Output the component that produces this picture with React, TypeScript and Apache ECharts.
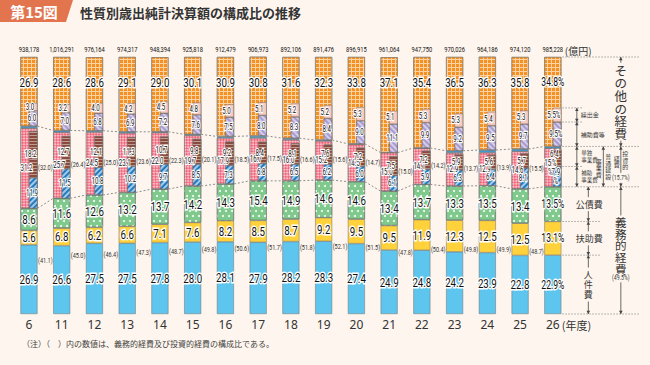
import React, { useEffect, useRef } from 'react';
import * as echarts from 'echarts';

// ---- data ----
const years = ['6', '11', '12', '13', '14', '15', '16', '17', '18', '19', '20', '21', '22', '23', '24', '25', '26'];
const totals = [938178, 1016291, 976164, 974317, 948394, 925818, 912479, 906973, 892106, 891476, 896915, 961064, 947750, 970026, 964186, 974120, 985228];
const personnel = [26.9, 26.6, 27.5, 27.5, 27.8, 28.0, 28.1, 27.9, 28.2, 28.3, 27.4, 24.9, 24.8, 24.2, 23.9, 22.8, 22.9];
const assistance = [5.6, 6.8, 6.2, 6.6, 7.1, 7.6, 8.2, 8.5, 8.7, 9.2, 9.5, 9.5, 11.9, 12.3, 12.5, 12.5, 13.1];
const debt = [8.6, 11.6, 12.6, 13.2, 13.7, 14.2, 14.3, 15.4, 14.9, 14.6, 14.6, 13.4, 13.7, 13.3, 13.5, 13.4, 13.5];
const obligatory = [41.1, 45.0, 46.4, 47.3, 48.7, 49.8, 50.6, 51.7, 51.8, 52.1, 51.5, 47.8, 50.4, 49.8, 49.9, 48.7, 49.5];
const investment = [32.0, 26.4, 25.0, 23.6, 22.3, 20.1, 18.5, 17.5, 16.6, 15.6, 14.7, 15.0, 14.2, 13.7, 13.9, 15.5, 15.7];
const construction = [31.2, 25.7, 24.5, 23.1, 22.0, 19.7, 17.9, 16.7, 16.0, 15.2, 14.5, 15.0, 14.1, 12.9, 12.9, 14.6, 15.0];
const subsidized = [11.9, 11.5, 10.8, 10.2, 9.7, 8.5, 7.3, 6.8, 6.5, 6.2, 6.0, 6.1, 5.9, 6.3, 6.4, 8.1, 7.9];
const independent = [18.2, 12.7, 12.1, 11.3, 10.7, 9.8, 9.2, 8.4, 8.1, 7.6, 7.2, 7.5, 7.2, 5.9, 5.6, 5.7, 6.4];
const other = [26.9, 28.6, 28.6, 29.1, 29.0, 30.1, 30.9, 30.8, 31.6, 32.3, 33.8, 37.1, 35.4, 36.5, 36.3, 35.8, 34.8];
const grants = [6.0, 7.0, 6.8, 6.9, 7.2, 7.6, 7.5, 8.0, 8.3, 8.4, 9.0, 11.1, 9.9, 9.2, 9.5, 9.7, 9.5];
const transfers = [3.0, 3.2, 4.0, 4.2, 4.5, 4.8, 5.0, 5.1, 5.2, 5.2, 5.3, 5.1, 5.3, 5.3, 5.4, 5.3, 5.5];

const NUM = "Roboto, 'Noto Sans', sans-serif";
const JP = "'Noto Sans CJK JP', 'Noto Sans', sans-serif";
const BG = '#FEF6EE';
const LAST = years.length - 1;
const BAR_W = 17;
const HALF = BAR_W / 2;

const r1 = (v: number) => Math.round(v * 10) / 10;
const baseLvl = personnel.map((v, i) => r1(v + assistance[i] + debt[i]));
const investOther = investment.map((v, i) => Math.max(0, r1(v - construction[i])));
const invGap = investment.map((v, i) => Math.max(0, r1(v - subsidized[i] - independent[i])));

const fmt = (v: number, i: number, stacked = false) => {
  const s = Number(v).toFixed(1);
  if (i !== LAST) return s;
  return stacked ? s + '\n%' : s + '%';
};

const border = { borderColor: '#6e6e6e', borderWidth: 0.5 };

const mainBar = (name: string, data: number[], color: string, decal?: any) => ({
  name, type: 'bar', xAxisIndex: 0, yAxisIndex: 0, stack: 'main', barWidth: BAR_W, data,
  itemStyle: decal ? { color, ...border, decal } : { color, ...border },
  label: { show: false }, silent: true,
});
const subBar = (name: string, data: number[], color: string | null, decal?: any) => ({
  name, type: 'bar', xAxisIndex: 1, yAxisIndex: 0, stack: 'R', barWidth: HALF, barGap: '0%', data,
  itemStyle: color ? (decal ? { color, ...border, decal } : { color, ...border }) : { color: 'rgba(0,0,0,0)' },
  label: { show: false }, silent: true,
});

type TS = { size: number; scale: number; stroke?: number; lh?: number; fill?: string };
const BIG: TS = { size: 13.5, scale: 0.72, stroke: 3 };
const BIG_LAST: TS = { size: 13, scale: 0.66, stroke: 3 };
const SMALL: TS = { size: 9, scale: 0.68, stroke: 2.4, lh: 9 };
const TOT: TS = { size: 8, scale: 0.72 };
const PAREN: TS = { size: 7.5, scale: 0.74, fill: '#333' };

// a number label: optional white halo drawn first, then the dark text
const T = (x: number, y: number, text: string, s: TS) => {
  const mk = (halo: boolean) => ({
    type: 'text', x, y, scaleX: s.scale, scaleY: 1,
    style: {
      text, fontSize: s.size, fontFamily: NUM,
      fill: halo ? '#fff' : (s.fill || '#111'),
      align: 'center', verticalAlign: 'middle',
      lineHeight: s.lh,
      stroke: halo ? '#fff' : undefined, lineWidth: halo ? s.stroke : 0,
    },
  });
  return s.stroke ? [mk(true), mk(false)] : [mk(false)];
};

export default function App() {
  const ref = useRef<HTMLDivElement>(null);
  useEffect(() => {
    if (!ref.current) return;
    const chart = echarts.init(ref.current, undefined, { renderer: 'svg' });
    const option: any = {
      animation: false,
      backgroundColor: BG,
      grid: { left: 12.6, right: 80.8, top: 57, bottom: 51, containLabel: false },
      xAxis: [
        {
          type: 'category', data: years, position: 'bottom',
          axisLine: { show: false }, axisTick: { show: false },
          axisLabel: { interval: 0, fontSize: 12, color: '#333', fontFamily: "'Noto Sans', sans-serif", margin: 4 },
        },
        { type: 'category', data: years, position: 'top', show: false },
      ],
      yAxis: [{ type: 'value', min: 0, max: 100, show: false }],
      series: [
        mainBar('人件費', personnel, '#5EC5EE'),
        mainBar('扶助費', assistance, '#FFD13B'),
        mainBar('公債費', debt, '#7FC98D', {
          symbol: 'circle', symbolSize: 1, color: 'rgba(255,255,255,0.95)',
          dashArrayX: [[2, 4], [0, 3, 2, 1]], dashArrayY: [2, 3],
        }),
        mainBar('普通建設事業費', construction, '#F1667A', {
          symbol: 'rect', symbolSize: 1, color: 'rgba(255,255,255,0.55)',
          dashArrayX: [[2, 2], [0, 2, 2, 0]], dashArrayY: [2, 0], rotation: Math.PI / 4,
        }),
        mainBar('その他投資的経費', investOther, '#3E9ED6'),
        mainBar('その他の経費', other, '#FCD3A0', {
          symbol: 'rect', symbolSize: 1, color: '#F39124', dashArrayX: [3, 1], dashArrayY: [3, 1],
        }),
        // right half sub bars
        {
          name: 'dummy', type: 'bar', xAxisIndex: 1, yAxisIndex: 0, stack: 'L', barWidth: HALF, barGap: '0%',
          data: years.map(() => 0), itemStyle: { color: 'rgba(0,0,0,0)' }, silent: true,
        },
        subBar('base', baseLvl, null),
        subBar('補助事業費', subsidized, '#1F7BC2', {
          symbol: 'rect', symbolSize: 1, color: 'rgba(255,255,255,0.6)', dashArrayX: [1, 0], dashArrayY: [1.2, 2], rotation: -Math.PI / 4,
        }),
        subBar('単独事業費', independent, '#8B4A3B', {
          symbol: 'rect', symbolSize: 1, color: 'rgba(255,255,255,0.45)', dashArrayX: [1, 0], dashArrayY: [1, 2],
        }),
        subBar('gap', invGap, null),
        subBar('補助費等', grants, '#A99BD1', {
          symbol: 'rect', symbolSize: 1, color: 'rgba(255,255,255,0.5)', dashArrayX: [1, 0], dashArrayY: [1.5, 2], rotation: Math.PI / 4,
        }),
        subBar('繰出金', transfers, '#F8C9C0'),
        // dotted connectors
        {
          type: 'custom', xAxisIndex: 0, yAxisIndex: 0, silent: true, z: 5,
          data: years.map((_, i) => [i, 0]),
          renderItem: (params: any, api: any) => {
            const i = api.value(0);
            if (i >= LAST) return { type: 'group', children: [] };
            const lo = (k: number) => personnel[k] + assistance[k] + debt[k];
            const hi = (k: number) => lo(k) + investment[k];
            const mk = (f: (k: number) => number) => {
              const a = api.coord([i, f(i)]);
              const b = api.coord([i + 1, f(i + 1)]);
              return {
                type: 'line',
                shape: { x1: a[0] + HALF, y1: a[1], x2: b[0] - HALF, y2: b[1] },
                style: { stroke: '#8c8c8c', lineWidth: 1, lineDash: [2, 2] },
              };
            };
            return { type: 'group', children: [mk(lo), mk(hi)] };
          },
        },
        // value labels, totals, parenthetical shares
        {
          type: 'custom', xAxisIndex: 0, yAxisIndex: 0, silent: true, z: 10,
          data: years.map((_, i) => [i, 0]),
          renderItem: (params: any, api: any) => {
            const i = api.value(0);
            const c = (v: number) => api.coord([i, v]);
            const xc = c(0)[0];
            const half = api.size([1, 0])[0] / 2;
            const p = personnel[i], a = assistance[i], d = debt[i];
            const b = p + a + d;
            const big = i === LAST ? BIG_LAST : BIG;
            const kids: any[] = [];
            kids.push(...T(xc, c(p / 2)[1], fmt(p, i), big));
            kids.push(...T(xc, c(p + a / 2)[1], fmt(a, i), big));
            kids.push(...T(xc, c(p + a + d / 2)[1], fmt(d, i), big));
            kids.push(...T(xc - 2.5, c(b + construction[i] / 2)[1], fmt(construction[i], i, true), SMALL));
            kids.push(...T(xc + 3, c(b + subsidized[i] / 2)[1], fmt(subsidized[i], i, true), SMALL));
            kids.push(...T(xc + 1.5, c(b + subsidized[i] + independent[i] / 2)[1], fmt(independent[i], i, true), SMALL));
            const t = b + investment[i];
            kids.push(...T(xc + 3, c(t + grants[i] / 2)[1], fmt(grants[i], i), SMALL));
            kids.push(...T(xc + 1, c(t + grants[i] + transfers[i] / 2)[1], fmt(transfers[i], i), SMALL));
            const top = c(100)[1];
            kids.push(...T(xc, top + 25, fmt(other[i], i), big));
            kids.push(...T(xc, top - 7, totals[i].toLocaleString('en-US'), TOT));
            if (i < LAST) {
              const po = c(b / 2), pi = c(b + investment[i] / 2);
              kids.push(...T(po[0] + half, po[1], '(' + obligatory[i].toFixed(1) + ')', PAREN));
              kids.push(...T(pi[0] + half, pi[1], '(' + investment[i].toFixed(1) + ')', PAREN));
            }
            return { type: 'group', children: kids };
          },
        },
      ],
    };
    chart.setOption(option);

    // ---- annotations, positioned from the last bar's values ----
    const p = (lvl: number) => chart.convertToPixel({ seriesIndex: 0 }, [LAST, lvl]) as number[];
    const xc = p(0)[0];
    const y = (lvl: number) => p(lvl)[1];
    const L0 = 0;
    const L1 = personnel[LAST];
    const L2 = L1 + assistance[LAST];
    const L3 = L2 + debt[LAST];
    const L3a = L3 + subsidized[LAST];
    const L4 = L3 + investment[LAST];
    const L5 = L4 + grants[LAST];
    const L6 = L5 + transfers[LAST];
    const L7 = 100;

    const STROKE = '#444';
    const head = (x: number, yy: number, dir: number) => ({
      type: 'polygon', silent: true,
      shape: { points: [[x, yy], [x - 1.8, yy - dir * 3.2], [x + 1.8, yy - dir * 3.2]] },
      style: { fill: STROKE },
    });
    const vline = (x: number, y1: number, y2: number) => ({
      type: 'line', silent: true, shape: { x1: x, y1, x2: x, y2 }, style: { stroke: STROKE, lineWidth: 0.8 },
    });
    const arrowBoth = (x: number, yTop: number, yBot: number) => [vline(x, yTop, yBot), head(x, yTop, -1), head(x, yBot, 1)];
    const arrowSplit = (x: number, yTop: number, yBot: number, gTop: number, gBot: number) => [
      vline(x, yTop, gTop), head(x, yTop, -1), vline(x, gBot, yBot), head(x, yBot, 1),
    ];
    const hdot = (x1: number, x2: number, yy: number) => ({
      type: 'line', silent: true, shape: { x1, y1: yy, x2, y2: yy },
      style: { stroke: '#8a8a8a', lineWidth: 0.8, lineDash: [1.5, 1.5] },
    });
    const txt = (x: number, yy: number, text: string, fontSize: number, extra: any = {}, scaleX = 1) => ({
      type: 'text', silent: true, x, y: yy, scaleX,
      style: { text, fontSize, fontFamily: JP, fill: '#3a3a3a', align: 'center', verticalAlign: 'middle', ...extra },
    });
    const vert = (s: string) => s.split('').join('\n');

    const xr = xc + HALF;
    const cA = xr + 15.5, cD = xr + 27, cB = xr + 42, cC = xr + 59.5, xEnd = xr + 78;
    const els: any[] = [];

    // title
    els.push({ type: 'polygon', silent: true, shape: { points: [[0, 0], [73, 0], [66, 22], [0, 22]] }, style: { fill: '#E2744E' } });
    els.push(txt(34, 11.5, '第15図', 15, { fill: '#fff', fontWeight: 'bold' }));
    els.push(txt(80, 12, '性質別歳出純計決算額の構成比の推移', 13, { align: 'left', fontWeight: 'bold', fill: '#333' }));
    // note
    els.push(txt(22, 343, '（注）（　）内の数値は、義務的経費及び投資的経費の構成比である。', 8, { align: 'left', fill: '#444' }));
    // units
    els.push(txt(xc + 12, 50, '(億円)', 10, { align: 'left', fill: '#333' }));
    els.push(txt(xc + 9, 324.5, '(年度)', 11, { align: 'left', fill: '#333' }));

    // dotted guides
    const guides: [number, number][] = [
      [L7, xEnd], [L6, cA + 6], [L5, cA + 6], [L4, xEnd], [L3a, cA + 6], [L3, xEnd], [L2, cD + 12], [L1, cD + 12], [L0, xEnd],
    ];
    guides.forEach(([l, e]) => els.push(hdot(xr + 1, e, y(l))));

    // column A: small sub-items
    els.push(...arrowBoth(cA, y(L6), y(L5)));
    els.push(txt(cA + 4, (y(L6) + y(L5)) / 2, '繰出金', 6, { align: 'left' }));
    els.push(...arrowBoth(cA, y(L5), y(L4)));
    els.push(txt(cA + 4, (y(L5) + y(L4)) / 2, '補助費等', 6, { align: 'left' }));
    els.push(...arrowBoth(cA, y(L4), y(L3a)));
    els.push(txt(cA + 4.5, (y(L4) + y(L3a)) / 2, '単独\n事業費', 5.5, { align: 'left', lineHeight: 6.5 }));
    els.push(...arrowBoth(cA, y(L3a), y(L3)));
    els.push(txt(cA + 4.5, (y(L3a) + y(L3)) / 2, '補助\n事業費', 5.5, { align: 'left', lineHeight: 6.5 }));

    // column B: 普通建設事業費
    const mB = (y(L4) + y(L3)) / 2;
    els.push(...arrowBoth(cB, y(L4), y(L3)));
    els.push(txt(cB - 4.5, mB + 1, vert('事業費'), 6, { lineHeight: 6.5 }));
    els.push(txt(cB + 5, mB, vert('普通建設'), 6, { lineHeight: 6.5 }));

    // column C: big groups
    const mOther = (y(L7) + y(L4)) / 2;
    els.push(...arrowSplit(cC, y(L7), y(L4), mOther - 39, mOther + 39));
    els.push(txt(cC, mOther, vert('その他の経費'), 12.5, { lineHeight: 12.6, fill: '#333' }));

    els.push(vline(cC, y(L4), y(L3) - 14), head(cC, y(L4), -1));
    els.push(vline(cC, y(L3) - 4, y(L3)), head(cC, y(L3), 1));
    els.push(txt(cC - 4, y(L4) + 15, vert('経費'), 6, { lineHeight: 6.5 }));
    els.push(txt(cC + 4.5, y(L4) + 14, vert('投資的'), 6, { lineHeight: 6.5 }));
    els.push(txt(cC, y(L3) - 9, '(' + investment[LAST].toFixed(1) + '%)', 6.5, { fontFamily: NUM }, 0.8));

    const mObl = (y(L3) + y(L0)) / 2;
    els.push(...arrowSplit(cC, y(L3), y(L0), mObl - 35, mObl + 32));
    els.push(txt(cC, mObl - 5, vert('義務的経費'), 11.5, { lineHeight: 11.6, fill: '#333' }));
    els.push(txt(cC, mObl + 27, '(' + obligatory[LAST].toFixed(1) + '%)', 6.5, { fontFamily: NUM }, 0.8));

    // column D: 公債費 / 扶助費 / 人件費
    const mDebt = (y(L3) + y(L2)) / 2;
    els.push(...arrowSplit(cD, y(L3), y(L2), mDebt - 7, mDebt + 7));
    els.push(txt(cD + 1, mDebt, '公債費', 9, { backgroundColor: BG }));
    const mAss = (y(L2) + y(L1)) / 2;
    els.push(...arrowSplit(cD, y(L2), y(L1), mAss - 7, mAss + 7));
    els.push(txt(cD + 1, mAss, '扶助費', 9, { backgroundColor: BG }));
    const mPer = (y(L1) + y(L0)) / 2;
    els.push(...arrowSplit(cD, y(L1), y(L0), mPer - 17, mPer + 17));
    els.push(txt(cD, mPer, vert('人件費'), 9, { lineHeight: 10 }));

    chart.setOption({ graphic: { elements: els } });

    return () => chart.dispose();
  }, []);

  return (
    <div
      ref={ref}
      style={{ position: 'fixed', left: 0, top: 0, width: 650, height: 365, background: BG }}
    />
  );
}
